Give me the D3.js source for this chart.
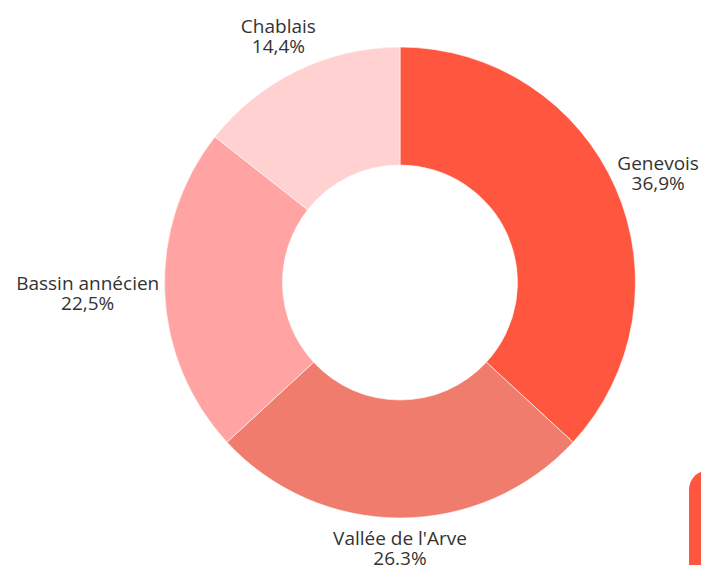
<!DOCTYPE html>
<html><head><meta charset="utf-8">
<script src="https://cdn.jsdelivr.net/npm/d3@7"></script>
<style>html,body{margin:0;padding:0;background:#fff;}svg{display:block;}</style>
</head><body>
<script>
const categories = ["Genevois", "Vallée de l'Arve", "Bassin annécien", "Chablais"];
const values = [36.9, 26.3, 22.5, 14.4];
const valueLabels = ["36,9%", "26.3%", "22,5%", "14,4%"];
const colors = ["#FF5640", "#F07C6E", "#FFA3A3", "#FFD1D1"];

const W = 701, H = 565;
const cx = 400, cy = 282.5, outerR = 235.5, innerR = 117.5;

const svg = d3.select("body").append("svg").attr("width", W).attr("height", H);

// decorative rounded tab at the bottom right
svg.append("rect").attr("x", 689).attr("y", 470).attr("width", 40).attr("height", 140)
  .attr("rx", 20).attr("fill", "#FF5640");

const data = categories.map((c, i) => ({name: c, value: values[i], label: valueLabels[i], color: colors[i]}));
const pie = d3.pie().value(d => d.value).sort(null);
const arc = d3.arc().innerRadius(innerR).outerRadius(outerR);
const arcs = pie(data);

const g = svg.append("g").attr("transform", `translate(${cx},${cy})`);
g.selectAll("path").data(arcs).join("path")
  .attr("d", arc).attr("fill", d => d.data.color)
  .attr("stroke", "#fff").attr("stroke-width", 0.6);

const labelR = 241, halfHeff = 33;
const fontSize = 19, lineH = 20;
arcs.forEach(a => {
  const ang = (a.startAngle + a.endAngle) / 2;
  const s = Math.sin(ang), c = -Math.cos(ang);
  const t = svg.append("text")
    .attr("font-family", "'Open Sans', sans-serif")
    .attr("font-size", fontSize).attr("fill", "#333")
    .attr("text-anchor", "middle");
  t.append("tspan").attr("x", 0).attr("y", 0).text(a.data.name);
  t.append("tspan").attr("x", 0).attr("y", lineH).text(a.data.label);
  const bb = t.node().getBBox();
  const w = bb.width;
  let px = cx + s * labelR + s * w / 2;
  let py = cy + c * labelR + c * halfHeff;
  // keep inside canvas
  const hBox = 34;
  py = Math.min(py, H - hBox / 2);
  px = Math.min(px, W - w / 2);
  // center of box -> first baseline
  t.attr("transform", `translate(${px},${py - hBox / 2 + 14})`);
});
</script>
</body></html>
